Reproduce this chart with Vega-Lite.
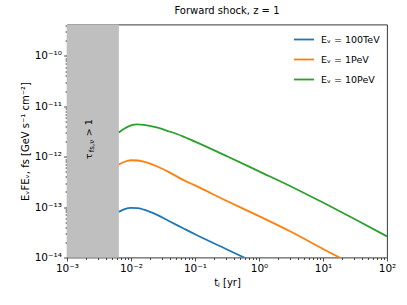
{
  "$schema": "https://vega.github.io/schema/vega-lite/v6.json",
  "width": 320,
  "height": 233,
  "autosize": "none",
  "padding": {"left": 67, "top": 24.5, "right": 20, "bottom": 47.5},
  "title": {"text": "Forward shock, z = 1", "fontSize": 10, "font": "DejaVu Sans", "fontWeight": "normal", "color": "#000", "offset": 5},
  "config": {
    "font": "DejaVu Sans",
    "view": {"stroke": "#222", "strokeWidth": 0.9},
    "axis": {
      "grid": false,
      "domain": false,
      "labelFont": "DejaVu Sans",
      "labelFontSize": 10.5,
      "labelColor": "#000",
      "labelPadding": 2,
      "labelOverlap": false,
      "labelFlush": false,
      "tickColor": "#222",
      "tickWidth": 0.8,
      "titleFont": "DejaVu Sans",
      "titleFontSize": 10,
      "titleFontWeight": "normal",
      "titleColor": "#000"
    }
  },
  "datasets": {
    "shade": [{"t0": 0.001, "t1": 0.00646, "lo": 1e-14, "hi": 4.2e-10}],
    "curves": [
      {"t": 0.006457, "F": 8.035e-14, "series": "Eᵥ = 100TeV"},
      {"t": 0.007943, "F": 9.120e-14, "series": "Eᵥ = 100TeV"},
      {"t": 0.01, "F": 9.638e-14, "series": "Eᵥ = 100TeV"},
      {"t": 0.01259, "F": 9.550e-14, "series": "Eᵥ = 100TeV"},
      {"t": 0.01585, "F": 8.913e-14, "series": "Eᵥ = 100TeV"},
      {"t": 0.02512, "F": 7.079e-14, "series": "Eᵥ = 100TeV"},
      {"t": 0.03981, "F": 5.248e-14, "series": "Eᵥ = 100TeV"},
      {"t": 0.0631, "F": 3.890e-14, "series": "Eᵥ = 100TeV"},
      {"t": 0.1, "F": 2.884e-14, "series": "Eᵥ = 100TeV"},
      {"t": 0.3162, "F": 1.445e-14, "series": "Eᵥ = 100TeV"},
      {"t": 1, "F": 7.244e-15, "series": "Eᵥ = 100TeV"},
      {"t": 0.006457, "F": 7.0e-13, "series": "Eᵥ = 1PeV"},
      {"t": 0.007943, "F": 7.943e-13, "series": "Eᵥ = 1PeV"},
      {"t": 0.01, "F": 8.511e-13, "series": "Eᵥ = 1PeV"},
      {"t": 0.01259, "F": 8.414e-13, "series": "Eᵥ = 1PeV"},
      {"t": 0.01585, "F": 7.943e-13, "series": "Eᵥ = 1PeV"},
      {"t": 0.02512, "F": 6.457e-13, "series": "Eᵥ = 1PeV"},
      {"t": 0.03981, "F": 4.898e-13, "series": "Eᵥ = 1PeV"},
      {"t": 0.0631, "F": 3.548e-13, "series": "Eᵥ = 1PeV"},
      {"t": 0.1, "F": 2.692e-13, "series": "Eᵥ = 1PeV"},
      {"t": 0.3162, "F": 1.318e-13, "series": "Eᵥ = 1PeV"},
      {"t": 1, "F": 6.607e-14, "series": "Eᵥ = 1PeV"},
      {"t": 3.162, "F": 3.236e-14, "series": "Eᵥ = 1PeV"},
      {"t": 10, "F": 1.479e-14, "series": "Eᵥ = 1PeV"},
      {"t": 31.62, "F": 6.918e-15, "series": "Eᵥ = 1PeV"},
      {"t": 0.006457, "F": 3.020e-12, "series": "Eᵥ = 10PeV"},
      {"t": 0.007943, "F": 3.631e-12, "series": "Eᵥ = 10PeV"},
      {"t": 0.01, "F": 4.169e-12, "series": "Eᵥ = 10PeV"},
      {"t": 0.01259, "F": 4.365e-12, "series": "Eᵥ = 10PeV"},
      {"t": 0.01585, "F": 4.266e-12, "series": "Eᵥ = 10PeV"},
      {"t": 0.02512, "F": 3.802e-12, "series": "Eᵥ = 10PeV"},
      {"t": 0.03981, "F": 3.162e-12, "series": "Eᵥ = 10PeV"},
      {"t": 0.0631, "F": 2.570e-12, "series": "Eᵥ = 10PeV"},
      {"t": 0.1, "F": 1.995e-12, "series": "Eᵥ = 10PeV"},
      {"t": 0.3162, "F": 1.023e-12, "series": "Eᵥ = 10PeV"},
      {"t": 1, "F": 5.129e-13, "series": "Eᵥ = 10PeV"},
      {"t": 3.162, "F": 2.570e-13, "series": "Eᵥ = 10PeV"},
      {"t": 10, "F": 1.230e-13, "series": "Eᵥ = 10PeV"},
      {"t": 31.62, "F": 5.754e-14, "series": "Eᵥ = 10PeV"},
      {"t": 100, "F": 2.630e-14, "series": "Eᵥ = 10PeV"}
    ],
    "bigText": [
      {"label": "τ", "t": 0.00221, "F": 8.9e-13},
      {"label": "> 1", "t": 0.00221, "F": 2.55e-12}
    ],
    "smallText": [
      {"label": "fs,ν", "t": 0.00246, "F": 1.23e-12}
    ]
  },
  "layer": [
    {
      "data": {"name": "shade"},
      "mark": {"type": "rect", "color": "#bfbfbf"},
      "encoding": {
        "x": {
          "field": "t0", "type": "quantitative",
          "scale": {"type": "log", "domain": [0.001, 100], "nice": false},
          "axis": {
            "orient": "bottom",
            "title": "tⱼ [yr]",
            "titlePadding": 4,
            "values": [0.001, 0.002, 0.003, 0.004, 0.005, 0.006, 0.007, 0.008, 0.009, 0.01, 0.02, 0.03, 0.04, 0.05, 0.06, 0.07, 0.08, 0.09, 0.1, 0.2, 0.3, 0.4, 0.5, 0.6, 0.7, 0.8, 0.9, 1, 2, 3, 4, 5, 6, 7, 8, 9, 10, 20, 30, 40, 50, 60, 70, 80, 90, 100],
            "tickSize": {"condition": {"test": "abs(log(datum.value)/LN10 - round(log(datum.value)/LN10)) < 0.01", "value": 3.5}, "value": 2},
            "labelExpr": "abs(log(datum.value)/LN10 - round(log(datum.value)/LN10)) > 0.01 ? '' : (round(log(datum.value)/LN10) == -3 ? '10⁻³' : round(log(datum.value)/LN10) == -2 ? '10⁻²' : round(log(datum.value)/LN10) == -1 ? '10⁻¹' : round(log(datum.value)/LN10) == 0 ? '10⁰' : round(log(datum.value)/LN10) == 1 ? '10¹' : '10²')"
          }
        },
        "x2": {"field": "t1"},
        "y": {
          "field": "lo", "type": "quantitative",
          "scale": {"type": "log", "domain": [1e-14, 4.2e-10], "nice": false},
          "axis": {
            "orient": "left",
            "title": "EᵥFEᵥ, fs [GeV s⁻¹ cm⁻²]",
            "titlePadding": 4,
            "values": [1e-14, 2e-14, 3e-14, 4e-14, 5e-14, 6e-14, 7e-14, 8e-14, 9e-14, 1e-13, 2e-13, 3e-13, 4e-13, 5e-13, 6e-13, 7e-13, 8e-13, 9e-13, 1e-12, 2e-12, 3e-12, 4e-12, 5e-12, 6e-12, 7e-12, 8e-12, 9e-12, 1e-11, 2e-11, 3e-11, 4e-11, 5e-11, 6e-11, 7e-11, 8e-11, 9e-11, 1e-10, 2e-10, 3e-10, 4e-10],
            "tickSize": {"condition": {"test": "abs(log(datum.value)/LN10 - round(log(datum.value)/LN10)) < 0.01", "value": 3.5}, "value": 2},
            "labelExpr": "abs(log(datum.value)/LN10 - round(log(datum.value)/LN10)) > 0.01 ? '' : (round(log(datum.value)/LN10) == -14 ? '10⁻¹⁴' : round(log(datum.value)/LN10) == -13 ? '10⁻¹³' : round(log(datum.value)/LN10) == -12 ? '10⁻¹²' : round(log(datum.value)/LN10) == -11 ? '10⁻¹¹' : '10⁻¹⁰')"
          }
        },
        "y2": {"field": "hi"}
      }
    },
    {
      "data": {"name": "curves"},
      "mark": {"type": "line", "strokeWidth": 1.8, "interpolate": "monotone", "clip": true},
      "encoding": {
        "x": {"field": "t", "type": "quantitative"},
        "y": {"field": "F", "type": "quantitative"},
        "color": {
          "field": "series", "type": "nominal",
          "scale": {"domain": ["Eᵥ = 100TeV", "Eᵥ = 1PeV", "Eᵥ = 10PeV"], "range": ["#1f77b4", "#ff7f0e", "#2ca02c"]},
          "legend": {
            "orient": "none", "legendX": 226, "legendY": 4, "title": null,
            "symbolType": "stroke", "symbolStrokeWidth": 1.8, "symbolSize": 400,
            "labelFontSize": 9.5, "labelColor": "#000", "labelFont": "DejaVu Sans",
            "rowPadding": 4, "labelOffset": 6, "padding": 0
          }
        }
      }
    },
    {
      "data": {"name": "bigText"},
      "mark": {"type": "text", "angle": 270, "align": "left", "baseline": "middle", "fontSize": 9.5, "color": "#000", "clip": false},
      "encoding": {
        "x": {"field": "t", "type": "quantitative"},
        "y": {"field": "F", "type": "quantitative"},
        "text": {"field": "label"}
      }
    },
    {
      "data": {"name": "smallText"},
      "mark": {"type": "text", "angle": 270, "align": "left", "baseline": "middle", "fontSize": 7, "color": "#000"},
      "encoding": {
        "x": {"field": "t", "type": "quantitative"},
        "y": {"field": "F", "type": "quantitative"},
        "text": {"field": "label"}
      }
    }
  ]
}
